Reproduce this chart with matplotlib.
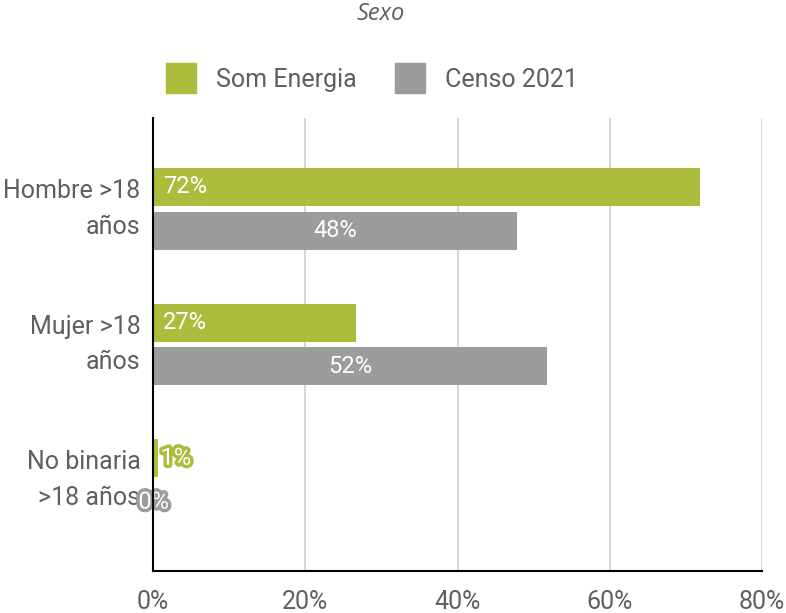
import numpy as np
import matplotlib.pyplot as plt
import matplotlib.patheffects as pe
from matplotlib.lines import Line2D

# Data
Categories   = ['Hombre >18\naños', 'Mujer >18\naños', 'No binaria\n>18 años']
Som_Energia  = [71.9, 26.7, 0.7]
Censo_2021   = [47.8, 51.8, 0.1]
Som_Labels   = ['72%', '27%', '1%']
Censo_Labels = ['48%', '52%', '0%']
X_Ticks      = [0, 20, 40, 60, 80]
X_Labels     = ['0%', '20%', '40%', '60%', '80%']

Green = '#adbc3c'
Gray  = '#9c9c9c'
Text_Color = '#5f5f5f'
plt.rcParams['font.family'] = ['Roboto', 'DejaVu Sans']

# Create figure
fig = plt.figure(figsize=(7.86, 6.13), dpi=100)
ax = fig.add_axes([153/786, 1-571/613, (762-153)/786, (571-118)/613])

y = np.arange(len(Categories))
Bar_H = 0.28
Off = 0.162

ax.barh(y - Off, Som_Energia, height=Bar_H, color=Green, zorder=3)
ax.barh(y + Off, Censo_2021, height=Bar_H, color=Gray, zorder=3)

# Labels
for i in range(len(Categories)):
	if Som_Energia[i] > 5:
		ax.text(1.3, y[i] - Off, Som_Labels[i], color='white', fontsize=17, ha='left', va='center', zorder=4)
	else:
		ax.text(Som_Energia[i] + 0.3, y[i] - Off, Som_Labels[i], color='white', fontsize=17, ha='left', va='center', zorder=4,
			path_effects=[pe.withStroke(linewidth=5, foreground=Green)])
	if Censo_2021[i] > 5:
		ax.text(Censo_2021[i] / 2, y[i] + Off, Censo_Labels[i], color='white', fontsize=17, ha='center', va='center', zorder=4)
	else:
		ax.text(Censo_2021[i], y[i] + Off, Censo_Labels[i], color='white', fontsize=17, ha='center', va='center', zorder=4,
			path_effects=[pe.withStroke(linewidth=5, foreground=Gray)])

# Axes config
ax.set_xlim(0, 80)
ax.set_ylim(2.67, -0.67)
ax.set_xticks(X_Ticks)
ax.set_xticklabels(X_Labels)
ax.set_yticks(y)
ax.set_yticklabels(Categories, linespacing=1.6, ha='right')
for lbl in ax.get_yticklabels():
	lbl.set_va('center')
ax.tick_params(axis='both', length=0, labelsize=18, labelcolor=Text_Color)
ax.tick_params(axis='x', pad=14)
ax.tick_params(axis='y', pad=9)
ax.grid(axis='x', color='#d0d0d0', linewidth=1.2, zorder=0)
for s in ['top', 'right']:
	ax.spines[s].set_visible(False)
for s in ['left', 'bottom']:
	ax.spines[s].set_color('black')
	ax.spines[s].set_linewidth(1.5)
	ax.spines[s].set_zorder(5)

# Legend
Handles = [Line2D([], [], marker='s', linestyle='none', markersize=22, color=Green),
	Line2D([], [], marker='s', linestyle='none', markersize=22, color=Gray)]
fig.legend(Handles, ['Som Energia', 'Censo 2021'], loc='center', bbox_to_anchor=(372/786, 1-80/613),
	ncol=2, frameon=False, fontsize=18, labelcolor=Text_Color, handlelength=1.2, handletextpad=0.8, columnspacing=1.5)

# Title
fig.text(381/786, 1-14/613, 'Sexo', ha='center', va='center', fontsize=17, style='italic',
	color=Text_Color, family=['Open Sans', 'DejaVu Sans'])

fig.savefig('out.png', dpi=100)
plt.close('all')
